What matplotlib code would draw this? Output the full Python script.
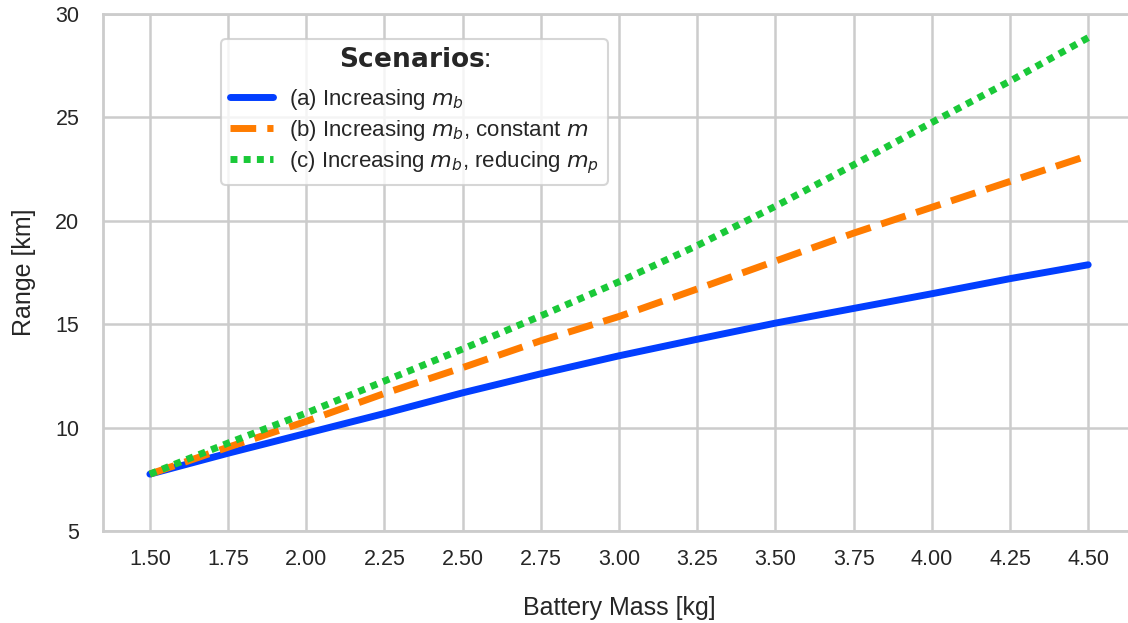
import matplotlib
matplotlib.use("Agg")
import matplotlib.pyplot as plt
import seaborn as sns

battery_mass = [1.5, 1.75, 2.0, 2.25, 2.5, 2.75, 3.0, 3.25, 3.5, 3.75, 4.0, 4.25, 4.5]
range_a = [7.75, 8.76, 9.72, 10.68, 11.68, 12.6, 13.47, 14.27, 15.05, 15.76, 16.47, 17.2, 17.87]
range_b = [7.75, 9.05, 10.3, 11.65, 12.9, 14.2, 15.37, 16.7, 18.05, 19.4, 20.65, 21.9, 23.15]
range_c = [7.75, 9.25, 10.7, 12.25, 13.8, 15.4, 17.05, 18.8, 20.7, 22.7, 24.75, 26.75, 28.85]

labels = [r"(a) Increasing $m_b$",
          r"(b) Increasing $m_b$, constant $m$",
          r"(c) Increasing $m_b$, reducing $m_p$"]
xticks = [1.5, 1.75, 2.0, 2.25, 2.5, 2.75, 3.0, 3.25, 3.5, 3.75, 4.0, 4.25, 4.5]
yticks = [5, 10, 15, 20, 25, 30]

sns.set_theme(style="whitegrid")
plt.rcParams['font.family'] = ['Liberation Sans', 'DejaVu Sans']
plt.rcParams['mathtext.fontset'] = 'dejavusans'

fig = plt.figure(figsize=(11.28, 6.23), dpi=100)
ax = fig.add_axes([0.0913, 0.1477, 0.915, 0.830])

colors = ["#023eff", "#ff7c00", "#1ac938"]
ax.plot(battery_mass, range_a, color=colors[0], lw=5, solid_capstyle='round', label=labels[0])
ax.plot(battery_mass, range_b, color=colors[1], lw=5, linestyle=(0, (3.7, 1.6)), label=labels[1])
ax.plot(battery_mass, range_c, color=colors[2], lw=5, linestyle=(0, (1, 0.9)), label=labels[2])

ax.set_xlim(1.35, 4.65)
ax.set_ylim(5, 30)
ax.set_xticks(xticks)
ax.set_xticklabels([f"{t:.2f}" for t in xticks])
ax.set_yticks(yticks)
ax.tick_params(axis='both', labelsize=15.5, colors='#262626')
ax.tick_params(axis='x', pad=7)
ax.tick_params(axis='y', pad=11)
for s in ax.spines.values():
    s.set_color('#cccccc')
    s.set_linewidth(2)
ax.grid(True, color='#cccccc', lw=1.8)

ax.set_xlabel("Battery Mass [kg]", fontsize=18, labelpad=19, color='#262626')
ax.set_ylabel("Range [km]", fontsize=18, labelpad=14, color='#262626')

leg = ax.legend(title=r"$\bf{Scenarios}$:", loc='upper left', bbox_to_anchor=(0.104, 0.972),
                fontsize=16, title_fontsize=19, handlelength=1.9, handletextpad=0.75,
                framealpha=0.8, edgecolor='#cccccc', borderpad=0.4, labelspacing=0.27)
leg.get_frame().set_linewidth(1.5)
leg._legend_box.sep = 10.5

fig.savefig("out.png", dpi=100)
